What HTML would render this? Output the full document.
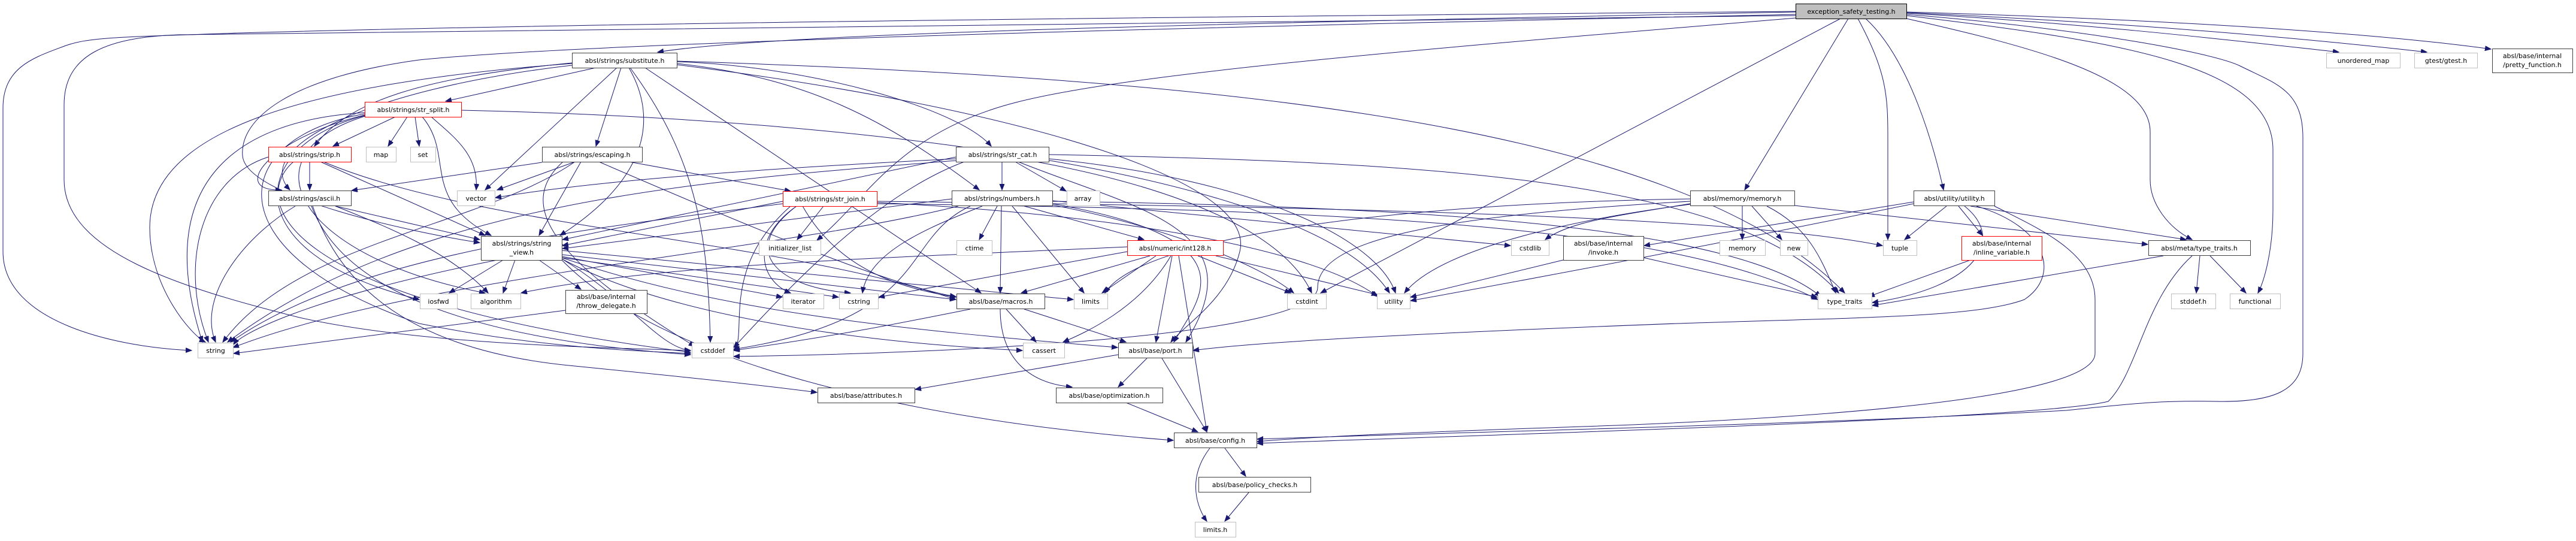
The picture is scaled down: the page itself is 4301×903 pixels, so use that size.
<!DOCTYPE html>
<html><head><meta charset="utf-8">
<style>
html,body{margin:0;padding:0;background:#fff;}
svg{display:block;}
text{font-family:"DejaVu Sans","Liberation Sans",sans-serif;font-size:11px;fill:#000;text-anchor:middle;}
.e{fill:none;stroke:#191970;stroke-width:1;}
.g{fill:#fff;stroke:#bfbfbf;}
.b{fill:#fff;stroke:#404040;}
.r{fill:#fff;stroke:#ff0000;}
</style></head><body>
<svg width="4301" height="903" viewBox="0 0 4301 903" xmlns="http://www.w3.org/2000/svg">
<defs>
<marker id="a" markerUnits="userSpaceOnUse" markerWidth="12" markerHeight="10" refX="10" refY="4" orient="auto">
<path d="M0,0 L10,4 L0,8 z" fill="#191970" stroke="#191970"/>
</marker>
</defs>
<g class="e" marker-end="url(#a)">
<!-- exception_safety_testing.h -->
<path d="M2998,20 C2000,40 1300,55 1098,87"/>
<path d="M2998,19 C2000,28 1000,38 400,55 C200,62 150,62 110,76 C60,95 5,110 5,180 L5,420 C5,540 200,580 320,585"/>
<path d="M2998,26 C2000,40 800,45 300,58 C180,62 107,90 107,175 L107,300 C107,420 300,480 500,530 C700,575 1000,580 1153,585"/>
<path d="M2998,24 C2000,45 1000,70 700,100 C480,130 400,200 405,260 C410,330 700,390 801,405"/>
<path d="M2998,30 C2400,80 1900,120 1700,170 C1500,220 1450,330 1364,401"/>
<path d="M3086,31 L2913,317"/>
<path d="M3073,31 L2205,489"/>
<path d="M3102,31 C3150,120 3152,160 3152,230 L3152,400"/>
<path d="M3115,31 C3190,100 3230,250 3245,317"/>
<path d="M3183,31 C3400,80 3590,130 3590,220 L3590,300 C3590,340 3620,380 3660,400"/>
<path d="M3183,26 C3550,70 3795,110 3795,250 L3795,350 C3795,420 3780,470 3770,489"/>
<path d="M3183,24 C3500,50 3700,90 3740,110 C3800,140 3845,150 3845,230 L3845,590 C3845,650 3800,672 3700,670 C3600,668 3550,675 3450,685 C3000,710 2400,722 2099,733"/>
<path d="M3183,22 C3500,40 3750,70 3905,87"/>
<path d="M3183,21 C3600,40 3900,70 4052,87"/>
<path d="M3183,20 C3700,35 4000,60 4159,82"/>
<!-- substitute -->
<path d="M995,113 L744,169"/>
<path d="M955,105 C700,130 580,170 525,244"/>
<path d="M955,109 C600,150 420,250 484,317"/>
<path d="M1037,113 L995,244"/>
<path d="M1030,113 L810,317"/>
<path d="M1050,113 C1100,200 1080,300 935,393"/>
<path d="M955,106 C500,140 250,220 250,380 C250,480 320,560 343,571"/>
<path d="M1052,113 C1168,270 1182,403 1186,571"/>
<path d="M1077,113 L1638,489"/>
<path d="M1130,103 C1350,110 1600,180 1655,244"/>
<path d="M1130,106 C1350,130 1480,200 1635,317"/>
<path d="M1130,108 C1700,180 2100,300 2070,420 C2050,500 1980,540 1955,571"/>
<path d="M1130,102 C2000,130 2800,200 3080,489"/>
<!-- str_split -->
<path d="M660,195 L556,244"/>
<path d="M680,195 L648,244"/>
<path d="M693,195 L700,244"/>
<path d="M720,195 C760,230 800,260 795,317"/>
<path d="M705,195 C760,260 700,330 820,393"/>
<path d="M609,188 C400,200 250,300 338,571"/>
<path d="M609,192 C450,230 380,320 470,317"/>
<path d="M609,193 C420,240 380,420 700,500"/>
<path d="M609,194 C400,260 500,430 810,489"/>
<path d="M609,190 C380,230 350,420 700,540 C900,580 1050,585 1153,590"/>
<path d="M770,184 C1500,200 2200,300 2320,489"/>
<!-- strip -->
<path d="M517,270 L517,317"/>
<path d="M535,270 L810,393"/>
<path d="M448,262 C330,300 300,450 348,571"/>
<path d="M490,270 C420,330 450,500 1153,588"/>
<path d="M540,270 C800,380 1300,400 1596,500"/>
<!-- ascii -->
<path d="M560,344 L801,400"/>
<path d="M493,344 C400,400 330,500 360,571"/>
<path d="M560,344 C650,380 750,420 815,489"/>
<path d="M520,344 C560,450 700,560 1153,592"/>
<path d="M522,344 C560,450 650,580 950,610 C1100,625 1250,640 1364,655"/>
<!-- escaping -->
<path d="M905,271 L587,318"/>
<path d="M960,270 L830,317"/>
<path d="M970,270 L900,393"/>
<path d="M960,270 C800,380 500,400 372,571"/>
<path d="M1050,270 L1320,319"/>
<path d="M940,270 C850,350 950,450 1160,578"/>
<path d="M1000,270 C1300,400 1500,480 1596,495"/>
<!-- str_cat -->
<path d="M1673,270 L1673,317"/>
<path d="M1695,270 L1780,319"/>
<path d="M1596,262 L939,400"/>
<path d="M1596,265 C1300,280 1000,300 827,330"/>
<path d="M1596,268 C1200,300 700,330 380,571"/>
<path d="M1610,270 C1450,330 1300,500 1225,580"/>
<path d="M1700,270 C1900,350 2100,380 1980,571"/>
<path d="M1751,258 C2400,270 2900,300 3070,489"/>
<path d="M1751,265 C2100,300 2300,400 2330,489"/>
<path d="M1730,270 C2000,320 2150,400 2190,489"/>
<!-- str_join -->
<path d="M1375,344 L1331,400"/>
<path d="M1307,336 L939,410"/>
<path d="M1307,340 C1000,380 600,420 385,571"/>
<path d="M1330,344 C1250,400 1270,470 1320,489"/>
<path d="M1330,344 C1230,420 1300,480 1420,489"/>
<path d="M1320,344 C1200,450 1250,560 1225,585"/>
<path d="M1340,344 C1400,450 1500,480 1596,496"/>
<path d="M1464,336 C2200,345 2900,360 3143,410"/>
<path d="M1464,340 C2300,350 2800,380 3035,500"/>
<path d="M1464,338 C1900,360 2200,420 2300,495"/>
<!-- numbers -->
<path d="M1665,344 L1635,400"/>
<path d="M1672,344 L1670,489"/>
<path d="M1690,344 L1810,489"/>
<path d="M1710,344 L1910,400"/>
<path d="M1640,344 C1550,380 1450,420 1440,489"/>
<path d="M1620,344 C1500,400 1560,530 1225,583"/>
<path d="M1589,332 L939,415"/>
<path d="M1600,344 C1300,420 700,460 389,580"/>
<path d="M1757,336 C2400,345 2900,380 3040,495"/>
<path d="M1757,340 C2100,400 2000,500 1960,571"/>
<path d="M1757,335 L2522,410"/>
<path d="M1757,342 C1950,380 2100,440 2160,489"/>
<!-- int128 -->
<path d="M1920,427 L1705,489"/>
<path d="M1930,427 L1840,489"/>
<path d="M2000,427 L2155,489"/>
<path d="M2030,427 L2300,492"/>
<path d="M1957,427 L1930,571"/>
<path d="M1968,427 L2015,721"/>
<path d="M1955,427 C1900,520 1800,560 1775,571"/>
<path d="M1882,420 L1467,496"/>
<path d="M1882,412 C1500,430 1100,440 870,489"/>
<!-- string_view -->
<path d="M840,434 L750,489"/>
<path d="M860,434 L840,489"/>
<path d="M900,434 L970,483"/>
<path d="M830,434 C500,500 400,560 390,575"/>
<path d="M938,432 C1050,500 1100,580 1153,585"/>
<path d="M938,430 L1400,496"/>
<path d="M938,428 L1306,496"/>
<path d="M938,418 L1792,500"/>
<path d="M938,425 L1596,500"/>
<path d="M938,430 C1200,520 1500,550 1866,580"/>
<path d="M938,434 C1100,600 1500,700 1959,735"/>
<path d="M938,432 C1100,520 1400,570 1707,585"/>
<!-- throw -->
<path d="M944,518 L390,590"/>
<!-- macros -->
<path d="M1620,516 C1500,540 1400,560 1225,585"/>
<path d="M1680,516 L1730,571"/>
<path d="M1710,516 L1880,571"/>
<path d="M1670,516 C1670,600 1720,640 1790,646"/>
<!-- port -->
<path d="M1867,592 L1528,650"/>
<path d="M1915,598 L1867,646"/>
<path d="M1940,598 L2015,721"/>
<path d="M1880,672 L2000,721"/>
<!-- config -->
<path d="M2045,748 L2080,795"/>
<path d="M2020,748 C1980,800 2000,850 2015,870"/>
<path d="M2085,822 L2045,870"/>
<!-- memory -->
<path d="M2909,344 L2909,400"/>
<path d="M2925,344 L2975,400"/>
<path d="M2950,344 C3020,380 3040,430 3065,489"/>
<path d="M2822,340 C2700,360 2620,370 2580,400"/>
<path d="M2822,341 C2600,370 2400,420 2345,489"/>
<path d="M2822,332 C2300,340 1900,400 1845,489"/>
<path d="M2822,336 C2400,360 2200,400 2200,480 C2200,560 1600,590 1225,595"/>
<path d="M2996,343 L3586,408"/>
<!-- invoke -->
<path d="M2610,434 L2355,496"/>
<path d="M2744,430 L3034,496"/>
<!-- utility.h -->
<path d="M3250,344 L3180,400"/>
<path d="M3270,344 L3310,393"/>
<path d="M3290,344 L3650,400"/>
<path d="M3280,344 C3350,400 3300,480 3126,505"/>
<path d="M3195,337 L2745,410"/>
<path d="M3195,340 C3000,380 2700,440 2355,502"/>
<path d="M3300,344 C3420,380 3440,460 3380,500 C3300,530 3100,530 2800,540 C2400,555 2100,570 1992,585"/>
<path d="M3330,344 C3400,380 3498,420 3498,500 L3498,590 C3498,650 3200,690 2700,710 C2400,720 2200,728 2099,737"/>
<!-- inline / meta -->
<path d="M3290,434 L3120,495"/>
<path d="M3673,427 L3667,489"/>
<path d="M3690,427 L3750,489"/>
<path d="M3612,427 L3126,510"/>
<path d="M3660,427 C3580,500 3570,620 3520,670 C3400,700 2500,725 2099,740"/>
</g>

<!-- nodes -->
<rect x="2998.5" y="6.5" width="185" height="25" fill="#bfbfbf" stroke="#000"/><text x="3091" y="23">exception_safety_testing.h</text>
<rect class="b" x="955.5" y="88.5" width="175" height="25"/><text x="1043" y="105">absl/strings/substitute.h</text>
<rect class="r" x="609.5" y="170.5" width="161" height="25"/><text x="690" y="187">absl/strings/str_split.h</text>
<rect class="r" x="448.5" y="245.5" width="138" height="25"/><text x="517" y="262">absl/strings/strip.h</text>
<rect class="g" x="611.5" y="245.5" width="50" height="25"/><text x="636" y="262">map</text>
<rect class="g" x="685.5" y="245.5" width="42" height="25"/><text x="706" y="262">set</text>
<rect class="b" x="905.5" y="245.5" width="167" height="25"/><text x="989" y="262">absl/strings/escaping.h</text>
<rect class="b" x="448.5" y="318.5" width="138" height="25"/><text x="517" y="335">absl/strings/ascii.h</text>
<rect class="g" x="763.5" y="318.5" width="63" height="25"/><text x="795" y="335">vector</text>
<rect class="b" x="803.5" y="394.5" width="135" height="40"/><text x="871" y="410">absl/strings/string</text><text x="871" y="425">_view.h</text>
<rect class="g" x="701.5" y="490.5" width="62" height="25"/><text x="732" y="507">iosfwd</text>
<rect class="g" x="786.5" y="490.5" width="83" height="25"/><text x="828" y="507">algorithm</text>
<rect class="b" x="944.5" y="484.5" width="136" height="39"/><text x="1012" y="499">absl/base/internal</text><text x="1012" y="514">/throw_delegate.h</text>
<rect class="g" x="330.5" y="572.5" width="59" height="25"/><text x="360" y="589">string</text>
<rect class="b" x="1596.5" y="245.5" width="155" height="25"/><text x="1674" y="262">absl/strings/str_cat.h</text>
<rect class="r" x="1307.5" y="319.5" width="157" height="25"/><text x="1386" y="336">absl/strings/str_join.h</text>
<rect class="b" x="1589.5" y="318.5" width="168" height="25"/><text x="1673" y="335">absl/strings/numbers.h</text>
<rect class="g" x="1781.5" y="318.5" width="55" height="25"/><text x="1808" y="335">array</text>
<rect class="g" x="1267.5" y="401.5" width="103" height="25"/><text x="1319" y="418">initializer_list</text>
<rect class="g" x="1597.5" y="401.5" width="59" height="25"/><text x="1627" y="418">ctime</text>
<rect class="r" x="1882.5" y="401.5" width="160" height="25"/><text x="1962" y="418">absl/numeric/int128.h</text>
<rect class="g" x="1307.5" y="490.5" width="68" height="25"/><text x="1341" y="507">iterator</text>
<rect class="g" x="1401.5" y="490.5" width="65" height="25"/><text x="1434" y="507">cstring</text>
<rect class="b" x="1597.5" y="490.5" width="147" height="25"/><text x="1671" y="507">absl/base/macros.h</text>
<rect class="g" x="1793.5" y="490.5" width="56" height="25"/><text x="1821" y="507">limits</text>
<rect class="g" x="1155.5" y="572.5" width="69" height="25"/><text x="1190" y="589">cstddef</text>
<rect class="g" x="1708.5" y="572.5" width="69" height="25"/><text x="1743" y="589">cassert</text>
<rect class="b" x="1867.5" y="572.5" width="124" height="25"/><text x="1929" y="589">absl/base/port.h</text>
<rect class="b" x="1365.5" y="647.5" width="162" height="25"/><text x="1446" y="664">absl/base/attributes.h</text>
<rect class="b" x="1763.5" y="647.5" width="178" height="25"/><text x="1852" y="664">absl/base/optimization.h</text>
<rect class="b" x="1960.5" y="722.5" width="138" height="25"/><text x="2029" y="739">absl/base/config.h</text>
<rect class="b" x="2001.5" y="796.5" width="187" height="25"/><text x="2095" y="813">absl/base/policy_checks.h</text>
<rect class="g" x="1995.5" y="871.5" width="68" height="25"/><text x="2029" y="888">limits.h</text>
<rect class="b" x="2822.5" y="318.5" width="174" height="25"/><text x="2909" y="335">absl/memory/memory.h</text>
<rect class="g" x="2523.5" y="401.5" width="63" height="25"/><text x="2555" y="418">cstdlib</text>
<rect class="b" x="2610.5" y="394.5" width="134" height="40"/><text x="2677" y="410">absl/base/internal</text><text x="2677" y="425">/invoke.h</text>
<rect class="g" x="2871.5" y="401.5" width="76" height="25"/><text x="2909" y="418">memory</text>
<rect class="g" x="2972.5" y="401.5" width="46" height="25"/><text x="2995" y="418">new</text>
<rect class="g" x="2149.5" y="490.5" width="65" height="25"/><text x="2182" y="507">cstdint</text>
<rect class="g" x="2299.5" y="490.5" width="55" height="25"/><text x="2327" y="507">utility</text>
<rect class="g" x="3035.5" y="490.5" width="90" height="25"/><text x="3080" y="507">type_traits</text>
<rect class="b" x="3195.5" y="318.5" width="135" height="25"/><text x="3263" y="335">absl/utility/utility.h</text>
<rect class="g" x="3144.5" y="401.5" width="56" height="25"/><text x="3172" y="418">tuple</text>
<rect class="r" x="3275.5" y="394.5" width="134" height="40"/><text x="3342" y="410">absl/base/internal</text><text x="3342" y="425">/inline_variable.h</text>
<rect class="b" x="3587.5" y="401.5" width="170" height="25"/><text x="3672" y="418">absl/meta/type_traits.h</text>
<rect class="g" x="3625.5" y="490.5" width="74" height="25"/><text x="3662" y="507">stddef.h</text>
<rect class="g" x="3723.5" y="490.5" width="84" height="25"/><text x="3765" y="507">functional</text>
<rect class="g" x="3884.5" y="88.5" width="123" height="25"/><text x="3946" y="105">unordered_map</text>
<rect class="g" x="4031.5" y="88.5" width="105" height="25"/><text x="4084" y="105">gtest/gtest.h</text>
<rect class="b" x="4161.5" y="81.5" width="134" height="40"/><text x="4228" y="97">absl/base/internal</text><text x="4228" y="112">/pretty_function.h</text>
</svg>
</body></html>
